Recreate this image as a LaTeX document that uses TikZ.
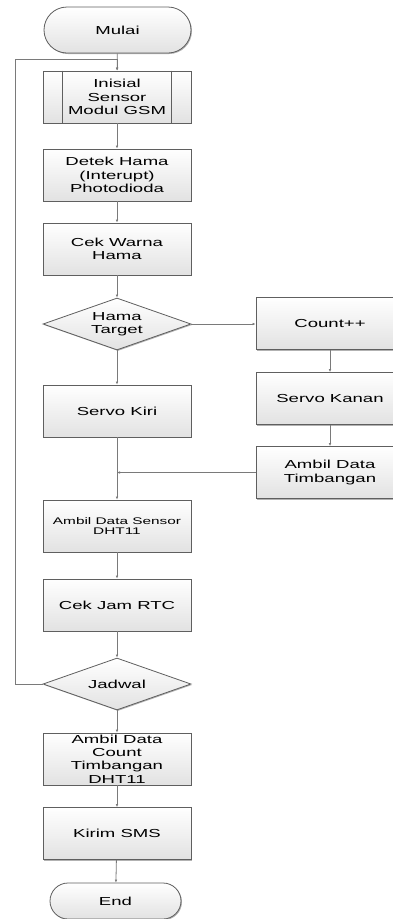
\documentclass[tikz,border=0pt]{standalone}
\usepackage{fontspec}
\setmainfont{Liberation Sans}
\newfontfamily\widefont[FakeStretch=1.6]{Liberation Sans}
\usetikzlibrary{arrows.meta,shadows,shapes.geometric,shapes.misc}
\definecolor{edgec}{HTML}{5F5F5F}
\definecolor{linec}{HTML}{7A7A7A}
\definecolor{fillb}{HTML}{E2E2E2}
\begin{document}
\begin{tikzpicture}[x=1pt,y=-1pt,
  base/.style={draw=edgec, line width=0.8pt, top color=white, bottom color=fillb,
    drop shadow={shadow xshift=1pt, shadow yshift=-1pt, fill=black, opacity=0.3},
    inner sep=1pt, align=center, text=black,
    font=\widefont\fontsize{11.6}{13.3}\selectfont},
  proc/.style={base, rectangle, minimum width=148pt, minimum height=52pt},
  term/.style={base, rounded rectangle, minimum height=46pt, minimum width=149pt},
  dec/.style={base, diamond, aspect=2.85, minimum width=148pt, minimum height=52pt, inner sep=0pt},
  arr/.style={draw=linec, line width=0.8pt, -{Latex[length=3pt,width=2.6pt]}},
  ln/.style={draw=linec, line width=0.8pt}
]
\useasboundingbox (0,0) rectangle (393,919);
\clip (0,0) rectangle (393,919);

\node[term] (mulai) at (117.5,30) {Mulai};
\node[proc] (ini) at (117,97) {Inisial\\Sensor\\Modul GSM};
\draw[edgec, line width=0.8pt] ([xshift=20pt]ini.north west) -- ([xshift=20pt]ini.south west);
\draw[edgec, line width=0.8pt] ([xshift=-20pt]ini.north east) -- ([xshift=-20pt]ini.south east);
\node[proc] (det) at (117,175) {Detek Hama\\(Interupt)\\Photodioda};
\node[proc] (cek) at (117,249) {Cek Warna\\Hama};
\node[dec] (hama) at (117,324) {Hama\\Target};
\node[proc] (cnt) at (330,323.5) {Count++};
\node[proc] (skn) at (330,398.5) {Servo Kanan};
\node[proc] (tim) at (330,472.5) {Ambil Data\\Timbangan};
\node[proc] (skr) at (117,411) {Servo Kiri};
\node[proc, font=\widefont\fontsize{9.6}{10.6}\selectfont] (ads) at (117,526) {Ambil Data Sensor\\DHT11};
\node[proc] (rtc) at (117,605) {Cek Jam RTC};
\node[dec] (jad) at (117,684) {Jadwal};
\node[proc] (adc) at (117,759) {Ambil Data\\Count\\Timbangan\\DHT11};
\node[proc] (sms) at (117,833.5) {Kirim SMS};
\node[term, minimum width=133pt, minimum height=36pt] (end) at (115.5,901) {End};

\coordinate (lp) at (15,59);

\draw[arr] (mulai) -- (ini);
\draw[arr] (ini) -- (det);
\draw[arr] (det) -- (cek);
\draw[arr] (cek) -- (hama);
\draw[arr] (hama.east) -- (cnt.west |- hama.east);
\draw[arr] (cnt) -- (skn);
\draw[arr] (skn) -- (tim);
\draw[arr] (hama) -- (skr);
\draw[arr] (skr) -- (ads);
\draw[arr] (tim.west) -- (skr.south |- tim.west);
\draw[arr] (ads) -- (rtc);
\draw[arr] (rtc) -- (jad);
\draw[arr] (jad) -- (adc);
\draw[arr] (adc) -- (sms);
\draw[arr] (sms) -- (end);
\draw[arr] (jad.west) -| (lp) -| (ini.north);
\end{tikzpicture}
\end{document}
